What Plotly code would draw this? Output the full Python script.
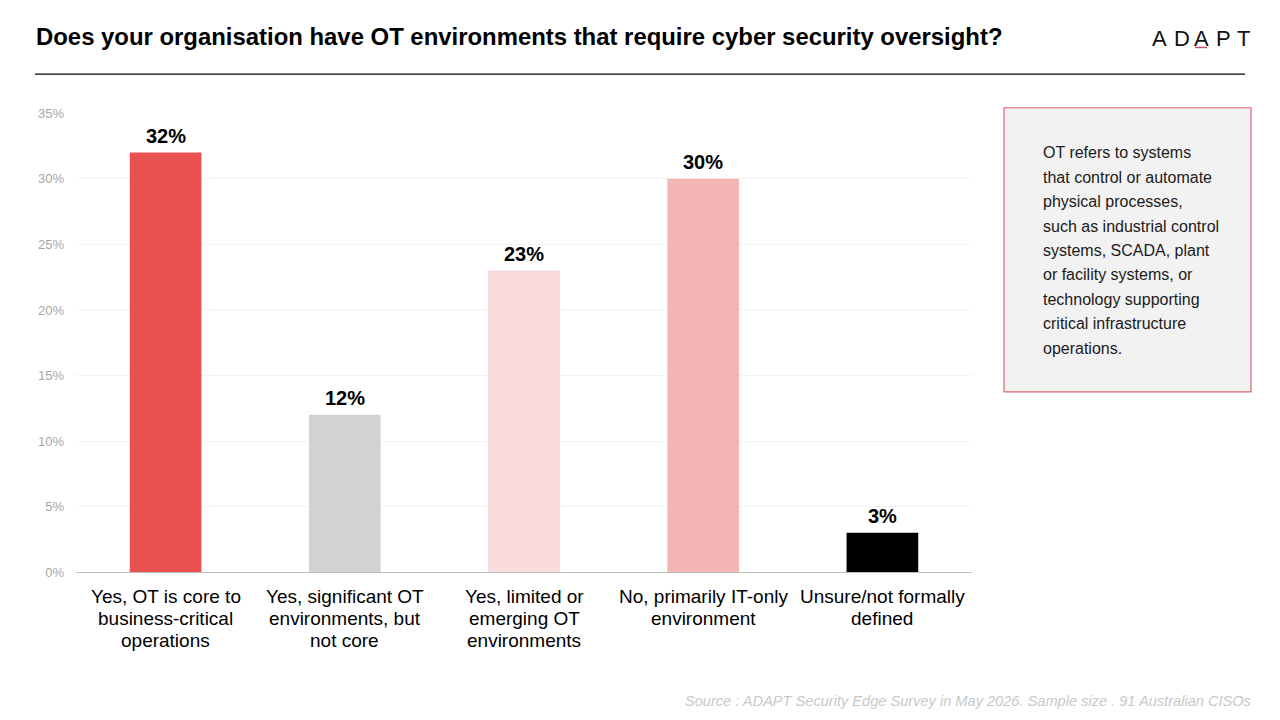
import plotly.graph_objects as go

categories = [
    "Yes, OT is core to<br>business-critical<br>operations",
    "Yes, significant OT<br>environments, but<br>not core",
    "Yes, limited or<br>emerging OT<br>environments",
    "No, primarily IT-only<br>environment",
    "Unsure/not formally<br>defined",
]
values = [32, 12, 23, 30, 3]
bar_colors = ["#E8514F", "#D2D2D2", "#FADBDC", "#F4B5B5", "#000000"]
y_ticks = [0, 5, 10, 15, 20, 25, 30, 35]

title = "Does your organisation have OT environments that require cyber security oversight?"
note_lines = [
    "OT refers to systems",
    "that control or automate",
    "physical processes,",
    "such as industrial control",
    "systems, SCADA, plant",
    "or facility systems, or",
    "technology supporting",
    "critical infrastructure",
    "operations.",
]
source = "Source : ADAPT Security Edge Survey in May 2026. Sample size . 91 Australian CISOs"

font = "Arial, Liberation Sans, sans-serif"
W, H = 1280, 720


def px(x):
    return x / W


def py(y):
    # screenshot maps page y to about 0.975*y + 7.7, so undo that here
    return 1 - ((y - 7.7) / 0.975) / H


fig = go.Figure(go.Bar(
    x=categories,
    y=values,
    marker=dict(color=bar_colors, line=dict(width=0)),
    hoverinfo="skip",
))

# value labels above bars
for cat, v in zip(categories, values):
    fig.add_annotation(text=f"{v}%", x=cat, y=v, xref="x", yref="y",
                       yanchor="middle", yshift=17, showarrow=False,
                       font=dict(size=20, color="#000000", family=font, weight="bold"))

# category labels, one line at a time for tighter spacing
for cat in categories:
    for j, part in enumerate(cat.split("<br>")):
        fig.add_annotation(text=part, x=cat, y=py(595 + 21.8 * j), xref="x", yref="paper",
                           xanchor="center", yanchor="middle", showarrow=False,
                           font=dict(size=19, color="#000000", family=font))

fig.update_layout(
    width=W, height=H,
    margin=dict(l=0, r=0, t=0, b=0),
    paper_bgcolor="white", plot_bgcolor="white",
    showlegend=False,
    bargap=0.6,
    font=dict(family=font),
    xaxis=dict(
        domain=[px(76), px(972)],
        showline=True, linecolor="#BFBFBF", linewidth=1,
        showticklabels=False,
        ticks="", showgrid=False,
    ),
    yaxis=dict(
        domain=[py(570.5), py(113.5)],
        range=[0, 35],
        tickvals=y_ticks,
        ticktext=[f"{t}%" for t in y_ticks],
        tickfont=dict(size=13, color="#A6A6A6"),
        showgrid=True, gridcolor="#F4F4F4", zeroline=False,
        ticklabelstandoff=11,
    ),
)

# title and rule
fig.add_annotation(text=title, x=px(34), y=py(37), xref="paper", yref="paper",
                   xanchor="left", yanchor="middle", showarrow=False,
                   font=dict(size=23.9, color="#000000", family=font, weight="bold"))
fig.add_shape(type="line", xref="paper", yref="paper",
              x0=px(35), x1=px(1245), y0=py(74.5), y1=py(74.5),
              line=dict(color="#000000", width=1.2))

# logo
for ch, lx in zip("ADAPT", [1159, 1181.5, 1201, 1223, 1243]):
    fig.add_annotation(text=ch, x=px(lx), y=py(39.5), xref="paper", yref="paper",
                       xanchor="center", yanchor="middle", showarrow=False,
                       font=dict(size=22, color="#111111", family=font))
fig.add_shape(type="line", xref="paper", yref="paper",
              x0=px(1195), x1=px(1207), y0=py(48), y1=py(48),
              line=dict(color="#C0556A", width=1.5))

# note box
fig.add_shape(type="rect", xref="paper", yref="paper",
              x0=px(1004), x1=px(1251), y0=py(108), y1=py(391),
              fillcolor="#F3F2F2", line=dict(color="#E06470", width=1.2), layer="below")
for i, line in enumerate(note_lines):
    fig.add_annotation(text=line, x=px(1041), y=py(153 + 24.3 * i), xref="paper", yref="paper",
                       xanchor="left", yanchor="middle", align="left", showarrow=False,
                       font=dict(size=16, color="#1A1A1A", family=font))

# source
fig.add_annotation(text=f"<i>{source}</i>", x=px(1253), y=py(698.5), xref="paper", yref="paper",
                   xanchor="right", yanchor="middle", showarrow=False,
                   font=dict(size=14.6, color="#C8C8C8", family=font))

pin = ("document.documentElement.style.margin='0';"
       "document.body.style.margin='0';document.body.style.overflow='hidden';"
       "var d=document.getElementById('{plot_id}');"
       "d.style.position='fixed';d.style.top='0';d.style.left='0';")
fig.write_html("out.html", config={"displayModeBar": False}, post_script=pin)
